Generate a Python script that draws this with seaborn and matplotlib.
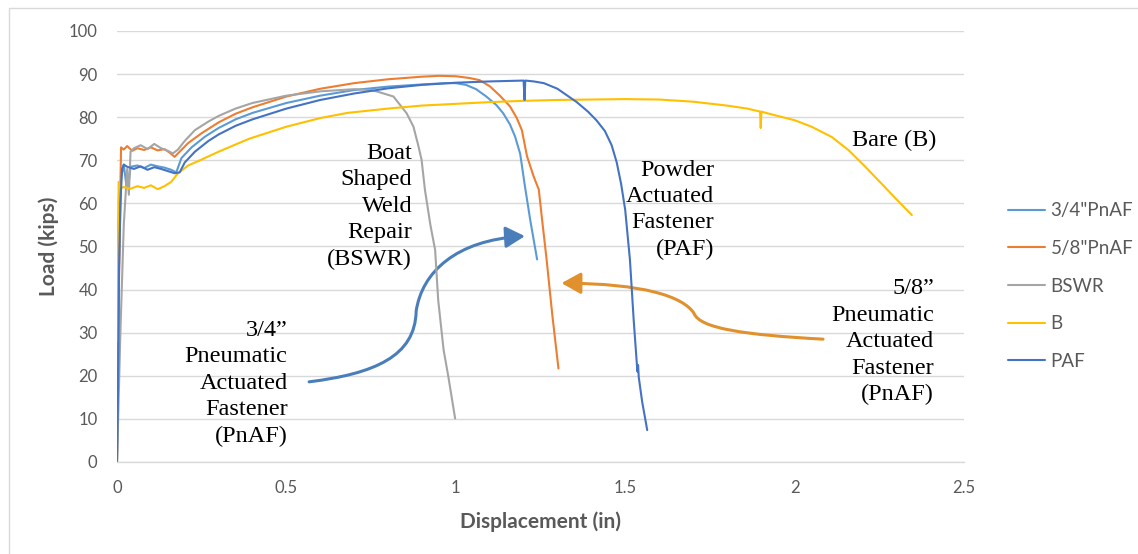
import numpy as np
import pandas as pd
import matplotlib
matplotlib.use("Agg")
import matplotlib.pyplot as plt
import seaborn as sns
from matplotlib.path import Path
from matplotlib.patches import FancyArrowPatch, Rectangle

# ---------------- data ----------------
lb_x = [0, 0.006, 0.012, 0.02, 0.028, 0.034, 0.04, 0.06, 0.08, 0.10, 0.12, 0.14, 0.16, 0.175,
        0.19, 0.22, 0.26, 0.30, 0.35, 0.40, 0.50, 0.60, 0.70, 0.80, 0.90, 0.97, 1.00, 1.03,
        1.06, 1.09, 1.12, 1.14, 1.16, 1.175, 1.19, 1.204, 1.22, 1.24]
lb_y = [0, 45, 66, 69, 64, 64.5, 68.5, 68.8, 68.2, 69.0, 68.6, 68.3, 67.8, 67.2,
        70.5, 73.0, 75.5, 77.5, 79.5, 81.0, 83.3, 85.0, 86.3, 87.1, 87.6, 87.9, 87.9, 87.5,
        86.5, 84.8, 82.8, 80.9, 78.3, 75.5, 71.5, 64.0, 56.0, 47.0]

or_x = [0, 0.004, 0.008, 0.012, 0.02, 0.03, 0.045, 0.06, 0.08, 0.10, 0.12, 0.14, 0.155, 0.17,
        0.185, 0.21, 0.25, 0.30, 0.35, 0.40, 0.50, 0.60, 0.70, 0.80, 0.90, 0.95, 1.00, 1.04,
        1.07, 1.10, 1.13, 1.16, 1.18, 1.195, 1.21, 1.23, 1.245, 1.255, 1.268, 1.285, 1.303]
or_y = [0, 30, 55, 73, 72.5, 73.3, 72.2, 72.8, 72.4, 73.0, 72.3, 72.6, 71.8, 70.8,
        72.0, 74.0, 76.3, 78.8, 80.8, 82.3, 84.8, 86.6, 87.9, 88.8, 89.4, 89.6, 89.5, 89.1,
        88.6, 87.2, 85.0, 82.5, 79.8, 77.0, 71.0, 66.2, 63.2, 56.0, 47.0, 34.0, 21.7]

gr_x = [0, 0.01, 0.02, 0.03, 0.035, 0.04, 0.05, 0.07, 0.09, 0.11, 0.13, 0.15, 0.165, 0.18,
        0.20, 0.23, 0.27, 0.30, 0.35, 0.40, 0.50, 0.60, 0.70, 0.75, 0.77, 0.816, 0.855, 0.875,
        0.89, 0.899, 0.909, 0.925, 0.939, 0.948, 0.964, 0.978, 0.998]
gr_y = [0, 30, 55, 68, 62, 72, 72.8, 73.5, 72.6, 73.8, 72.8, 72.2, 71.6, 72.5,
        74.5, 77.0, 79.0, 80.3, 82.0, 83.3, 85.0, 86.0, 86.5, 86.3, 85.9, 84.8, 80.9, 77.8,
        73.2, 70.1, 63.1, 55.0, 49.2, 37.6, 26.0, 19.8, 10.1]

ye_x = [0, 0.002, 0.005, 0.01, 0.02, 0.04, 0.06, 0.08, 0.10, 0.12, 0.14, 0.16, 0.18, 0.21,
        0.245, 0.30, 0.39, 0.50, 0.60, 0.68, 0.80, 0.90, 1.00, 1.10, 1.20, 1.30, 1.40, 1.50,
        1.60, 1.70, 1.80, 1.86, 1.898, 1.900, 1.902, 1.92, 2.00, 2.05, 2.11, 2.16, 2.21,
        2.26, 2.30, 2.346]
ye_y = [28, 50, 65, 63.5, 63.8, 63.4, 64.0, 63.6, 64.2, 63.3, 64.0, 65.0, 67.0, 68.8,
        70.0, 72.0, 75.0, 77.8, 79.8, 81.0, 82.0, 82.7, 83.1, 83.5, 83.8, 84.0, 84.1, 84.2,
        84.1, 83.6, 82.7, 82.0, 81.3, 77.5, 81.3, 80.9, 79.3, 77.8, 75.4, 72.3, 68.4,
        64.3, 61.0, 57.3]

pa_x = [0, 0.002, 0.004, 0.006, 0.01, 0.015, 0.02, 0.03, 0.05, 0.07, 0.09, 0.11, 0.13, 0.15,
        0.17, 0.185, 0.20, 0.23, 0.27, 0.30, 0.35, 0.40, 0.50, 0.60, 0.70, 0.80, 0.90, 1.00,
        1.10, 1.20, 1.203, 1.205, 1.23, 1.26, 1.30, 1.357, 1.39, 1.415, 1.44, 1.46, 1.475,
        1.488, 1.50, 1.514, 1.525, 1.536, 1.538, 1.54, 1.55, 1.565]
pa_y = [0, 10, 25, 45, 60, 68, 69, 68.5, 68.0, 68.6, 67.8, 68.4, 68.0, 67.5,
        67.0, 67.2, 69.5, 72.0, 74.5, 76.0, 78.0, 79.5, 82.0, 84.0, 85.5, 86.7, 87.5, 88.0,
        88.3, 88.5, 84.0, 88.5, 88.3, 87.9, 86.6, 83.5, 81.3, 79.3, 76.8, 73.5, 69.5,
        64.5, 58.5, 46.9, 33.0, 21.0, 22.5, 19.7, 14.0, 7.4]

series_names = ['3/4"PnAF', '5/8"PnAF', 'BSWR', 'B', 'PAF']
series_x = [lb_x, or_x, gr_x, ye_x, pa_x]
series_y = [lb_y, or_y, gr_y, ye_y, pa_y]
colors = ['#5B9BD5', '#ED7D31', '#A5A5A5', '#FFC000', '#4472C4']

x_ticks = [0, 0.5, 1, 1.5, 2, 2.5]
x_tick_labels = ['0', '0.5', '1', '1.5', '2', '2.5']
y_ticks = list(range(0, 101, 10))

frames = []
for name, xs, ys in zip(series_names, series_x, series_y):
    frames.append(pd.DataFrame({'disp': xs, 'load': ys, 'series': name}))
df = pd.concat(frames, ignore_index=True)

# ---------------- style ----------------
sns.set_theme(style="white")
plt.rcParams['font.family'] = ['Lato', 'DejaVu Sans']
gray_txt = '#595959'

fig = plt.figure(figsize=(11.38, 5.54), dpi=100)
ax = fig.add_axes([117 / 1138, 1 - 462 / 554, 847 / 1138, 431 / 554])

sns.lineplot(data=df, x='disp', y='load', hue='series', hue_order=series_names,
             palette=colors, sort=False, estimator=None, units='series',
             linewidth=1.5, ax=ax, legend=True)

ax.set_xlim(0, 2.5)
ax.set_ylim(0, 100)
ax.set_xticks(x_ticks)
ax.set_xticklabels(x_tick_labels)
ax.set_yticks(y_ticks)
ax.tick_params(axis='both', length=0, labelsize=12, labelcolor=gray_txt)
ax.tick_params(axis='y', pad=14)
ax.tick_params(axis='x', pad=13)
ax.grid(axis='y', color='#D9D9D9', linewidth=1)
ax.set_axisbelow(True)
for s in ['top', 'right', 'left']:
    ax.spines[s].set_visible(False)
ax.spines['bottom'].set_color('#D9D9D9')
ax.spines['bottom'].set_linewidth(1)

ax.set_xlabel('Displacement (in)', fontsize=15, fontweight='bold', color=gray_txt)
ax.set_ylabel('Load (kips)', fontsize=15, fontweight='bold', color=gray_txt)
ax.xaxis.set_label_coords(0.5, -0.115)
ax.yaxis.set_label_coords(-0.068, 0.5)

ax.get_legend().remove()
handles, labels = ax.get_legend_handles_labels()
fig.legend(handles, labels, loc='upper left', bbox_to_anchor=(999 / 1138, 1 - 193 / 554),
           frameon=False, fontsize=13.5, handlelength=1.95, handletextpad=0.3,
           labelspacing=1.1, borderpad=0, labelcolor=gray_txt)

# ---------------- annotations ----------------
serif = dict(family=['Liberation Serif', 'DejaVu Serif'], fontsize=17.5, color='black',
             ha='right', va='center', linespacing=1.34)
ax.text(0.871, 59.3, 'Boat\nShaped\nWeld\nRepair\n(BSWR)', **serif)
ax.text(1.762, 58.5, 'Powder\nActuated\nFastener\n(PAF)', **serif)
ax.text(2.419, 74.7, 'Bare (B)', **serif)
ax.text(2.411, 27.9, '5/8\u201d\nPneumatic\nActuated\nFastener\n(PnAF)', **serif)
ax.text(0.503, 18.3, '3/4\u201d\nPneumatic\nActuated\nFastener\n(PnAF)', **serif)

# curved connector arrows
blue_path = Path([(0.567, 18.6), (0.76, 20.5), (0.88, 24.5), (0.883, 35.0),
                  (0.90, 44.0), (1.00, 51.5), (1.204, 52.4)],
                 [Path.MOVETO, Path.CURVE4, Path.CURVE4, Path.CURVE4,
                  Path.CURVE4, Path.CURVE4, Path.CURVE4])
ax.add_patch(FancyArrowPatch(path=blue_path, arrowstyle='-|>,head_length=9,head_width=5',
                             color='#4A7EBB', linewidth=2.2, mutation_scale=1.3))

orange_path = Path([(2.084, 28.5), (1.85, 29.5), (1.72, 31.0), (1.703, 34.5),
                    (1.67, 38.5), (1.55, 41.4), (1.312, 41.5)],
                   [Path.MOVETO, Path.CURVE4, Path.CURVE4, Path.CURVE4,
                    Path.CURVE4, Path.CURVE4, Path.CURVE4])
ax.add_patch(FancyArrowPatch(path=orange_path, arrowstyle='-|>,head_length=9,head_width=5',
                             color='#E0912D', linewidth=2.2, mutation_scale=1.3))

# chart-area border (only left/top visible in the reference crop)
fig.patches.append(Rectangle((9 / 1138, -0.1), 1.2, 1.1 - 8 / 554, transform=fig.transFigure,
                             fill=False, edgecolor='#D9D9D9', linewidth=1))

fig.savefig('out.png', dpi=100)
